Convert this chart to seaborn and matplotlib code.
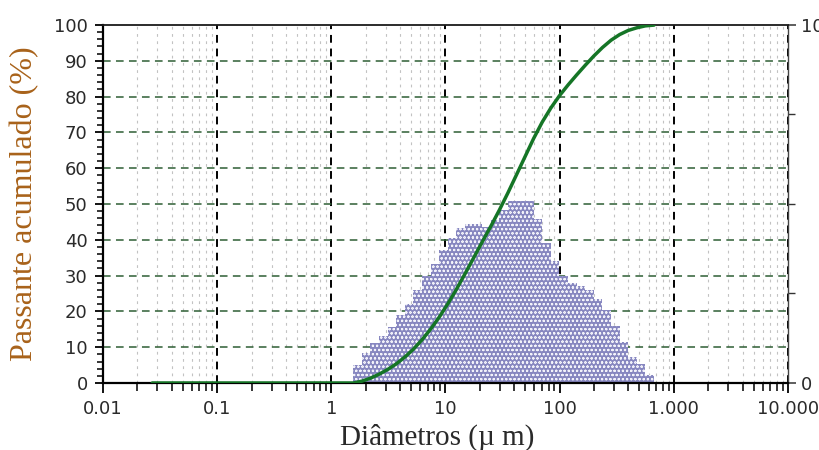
import numpy as np
import pandas as pd
import matplotlib
matplotlib.use("Agg")
import matplotlib.pyplot as plt
import seaborn as sns
from matplotlib.ticker import FixedLocator, FixedFormatter, NullFormatter, LogLocator, MultipleLocator

# Size classes (µm), quarter-phi spacing: class boundaries
bin_edges_um = [1.557, 1.852, 2.202, 2.618, 3.114, 3.703, 4.404, 5.237, 6.228, 7.406,
                8.808, 10.47, 12.46, 14.81, 17.62, 20.95, 24.91, 29.63, 35.23, 41.90,
                49.82, 59.25, 70.46, 83.79, 99.65, 118.5, 140.9, 167.6, 199.3, 237.0,
                281.9, 335.2, 398.6, 474.1, 563.8, 670.5]

# Percentage in each class (right axis)
freq_pct = [0.51, 0.83, 1.11, 1.32, 1.57, 1.90, 2.22, 2.61, 2.98, 3.33,
            3.72, 4.05, 4.33, 4.44, 4.45, 4.37, 4.56, 4.82, 5.07, 5.08,
            5.07, 4.58, 3.92, 3.42, 3.00, 2.80, 2.70, 2.59, 2.36, 2.04,
            1.58, 1.15, 0.74, 0.54, 0.21]

# Cumulative passing (%) at the class upper boundaries
cum_diam_um = [0.027] + bin_edges_um
cum_passing_pct = [0.0, 0.0, 0.51, 1.34, 2.45, 3.77, 5.34, 7.24, 9.46, 12.07,
                   15.05, 18.38, 22.10, 26.15, 30.48, 34.92, 39.37, 43.74, 48.30, 53.12,
                   58.19, 63.27, 68.34, 72.92, 76.84, 80.26, 83.26, 86.06, 88.76, 91.35,
                   93.71, 95.75, 97.33, 98.48, 99.22, 99.76, 99.97]

x_tick_values = [0.01, 0.1, 1, 10, 100, 1000, 10000]
x_tick_labels = ["0.01", "0.1", "1", "10", "100", "1.000", "10.000"]
left_max, left_step, left_minor_step = 100, 10, 2
right_max = 10
right_major_ticks = [0, 10]
right_minor_ticks = [2.5, 5, 7.5]

sns.set_style("white")
plt.rcParams["font.family"] = ["DejaVu Sans"]
plt.rcParams["hatch.linewidth"] = 0.5

TEXT = "#2a2a2a"
BAR = "#8787C0"
LINE = "#157526"
HGRID = "#2E5E34"

fig = plt.figure(figsize=(8.19, 4.5), dpi=100, facecolor="white")
ax = fig.add_axes([0.12576, 0.14889, 0.83639, 0.79556])

edges = np.array(bin_edges_um)
hist_df = pd.DataFrame({
    "diametro": np.sqrt(edges[:-1] * edges[1:]),
    "retido": freq_pct,
})

sns.histplot(data=hist_df, x="diametro", weights="retido",
             bins=[float(b) for b in np.log10(edges)],
             log_scale=True, ax=ax, color=BAR, alpha=1, linewidth=0, zorder=2)

# purple bars with a fine white dot texture
for bar in ax.patches:
    bar.set_alpha(None)
    bar.set_facecolor(BAR)
    bar.set_edgecolor("#F2F2FA")
    bar.set_linewidth(0)
    bar.set_hatch("oooo")

ax.set_xlim(0.01, 10000)
ax.set_ylim(0, right_max)
ax.set_axisbelow(True)

# x axis: decades with Portuguese thousands separator
ax.xaxis.set_major_locator(FixedLocator(x_tick_values))
ax.xaxis.set_major_formatter(FixedFormatter(x_tick_labels))
ax.xaxis.set_minor_locator(LogLocator(base=10, subs=range(2, 10), numticks=30))
ax.xaxis.set_minor_formatter(NullFormatter())
ax.tick_params(axis="x", which="major", direction="out", length=7, width=1.3,
               color="black", pad=5, labelsize=13, labelcolor=TEXT, bottom=True)
ax.tick_params(axis="x", which="minor", direction="out", length=6, width=1.1,
               color="black", bottom=True)

# grid
ax.grid(True, which="major", axis="x", color="black", linestyle=(0, (4, 3)), linewidth=1.4)
ax.grid(True, which="minor", axis="x", color="#c2c2c2", linestyle=(0, (2.5, 4)), linewidth=0.8)
for v in range(left_step, left_max, left_step):
    ax.axhline(v * right_max / left_max, color=HGRID, linestyle=(0, (5, 3.5)),
               linewidth=1.1, zorder=0.6)

# right axis: class percentage
ax2 = ax.twinx()
ax.yaxis.tick_right()
ax.yaxis.set_major_locator(FixedLocator(right_major_ticks))
ax.yaxis.set_minor_locator(FixedLocator(right_minor_ticks))
ax.tick_params(axis="y", which="major", direction="out", length=6, width=1.1,
               color="#333333", right=True, left=False, labelright=True,
               labelleft=False, labelsize=13, labelcolor=TEXT, pad=3)
ax.tick_params(axis="y", which="minor", direction="out", length=5, width=1.0,
               color="#333333", right=True, left=False)
ax.set_ylabel("")
for s in ax.spines.values():
    s.set_visible(False)

# cumulative passing curve
sns.lineplot(x=cum_diam_um, y=cum_passing_pct, ax=ax2, color=LINE, linewidth=2.5,
             sort=False, zorder=5)
ax2.set_ylim(0, left_max)
ax2.set_xlim(0.01, 10000)
ax2.yaxis.tick_left()
ax2.yaxis.set_label_position("left")
ax2.yaxis.set_major_locator(MultipleLocator(left_step))
ax2.yaxis.set_minor_locator(MultipleLocator(left_minor_step))
ax2.tick_params(axis="y", which="major", direction="out", length=6, width=1.3,
                color="black", left=True, right=False, labelleft=True,
                labelright=False, labelsize=13, labelcolor=TEXT, pad=5)
ax2.tick_params(axis="y", which="minor", direction="out", length=4, width=1.1,
                color="black", left=True, right=False)

for side in ("left", "bottom"):
    ax2.spines[side].set_visible(True)
    ax2.spines[side].set_color("black")
    ax2.spines[side].set_linewidth(1.6)
ax2.spines["top"].set_visible(True)
ax2.spines["top"].set_color("#1a1a1a")
ax2.spines["top"].set_linewidth(1.3)
ax2.spines["right"].set_visible(True)
ax2.spines["right"].set_color("#444444")
ax2.spines["right"].set_linewidth(1.0)

ax2.set_ylabel("Passante acumulado (%)", family=["Liberation Serif"], fontsize=23,
               color="#A8621A")
ax2.yaxis.set_label_coords(-0.093, 0.5)
ax2.set_xlabel("")
ax.set_xlabel("Diâmetros (µ m)", family=["Liberation Serif"], fontsize=21, color=TEXT)
ax.xaxis.set_label_coords(0.4876, -0.114)

fig.savefig("out.png", dpi=100, facecolor="white")
